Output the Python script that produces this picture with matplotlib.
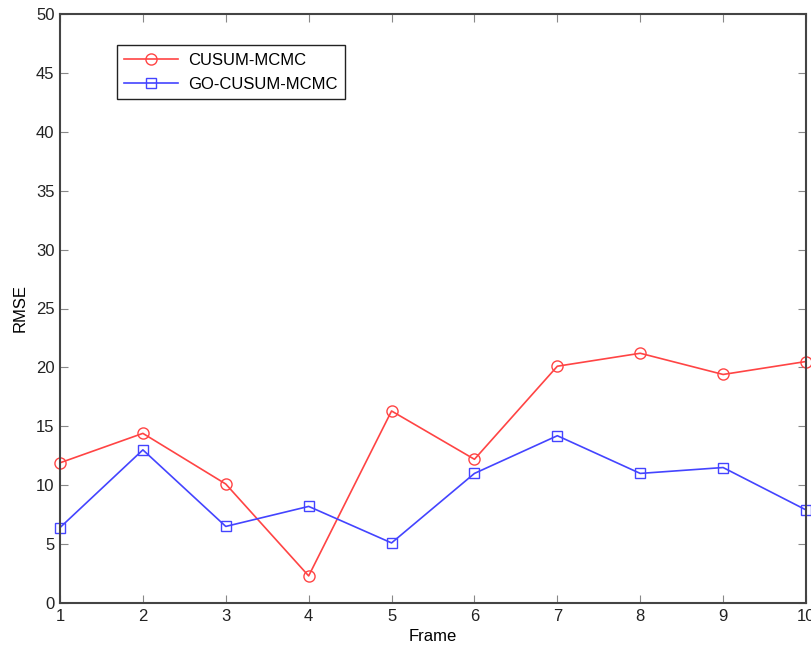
import matplotlib
matplotlib.use("Agg")
import matplotlib.pyplot as plt

frames = [1, 2, 3, 4, 5, 6, 7, 8, 9, 10]
cusum_mcmc = [11.9, 14.4, 10.1, 2.3, 16.3, 12.2, 20.1, 21.2, 19.4, 20.5]
go_cusum_mcmc = [6.4, 13.0, 6.5, 8.2, 5.1, 11.0, 14.2, 11.0, 11.5, 7.9]
xticks = list(range(1, 11))
yticks = list(range(0, 51, 5))

plt.rcParams['font.family'] = ['Liberation Sans', 'DejaVu Sans']
fig = plt.figure(figsize=(8.12, 6.48), dpi=100)
ax = fig.add_axes([60/812, 45/648, 746/812, 589/648])

ax.plot(frames, cusum_mcmc, color='#ff4444', marker='o', markersize=8,
        markerfacecolor='none', markeredgecolor='#ff4444', linewidth=1.2,
        label='CUSUM-MCMC', clip_on=False)
ax.plot(frames, go_cusum_mcmc, color='#4444ff', marker='s', markersize=7,
        markerfacecolor='none', markeredgecolor='#4444ff', linewidth=1.2,
        label='GO-CUSUM-MCMC', clip_on=False)

ax.set_xlim(1, 10)
ax.set_ylim(0, 50)
ax.set_xticks(xticks)
ax.set_yticks(yticks)
ax.tick_params(direction='in', top=True, right=True, labelsize=12,
               color='#888888', length=6, labelcolor='#222222', pad=4)
for s in ax.spines.values():
    s.set_color('#444444')
    s.set_linewidth(1.5)
ax.set_xlabel('Frame', fontsize=12, labelpad=4)
ax.set_ylabel('RMSE', fontsize=12, labelpad=6)

leg = ax.legend(loc='upper left', bbox_to_anchor=(0.0764, 0.947), fancybox=False,
                edgecolor='#222222', fontsize=12, borderpad=0.45, handlelength=3.2,
                labelspacing=0.55, handletextpad=0.6, borderaxespad=0,
                framealpha=1)
leg.get_frame().set_linewidth(1.0)

fig.savefig('out.png', dpi=100)
